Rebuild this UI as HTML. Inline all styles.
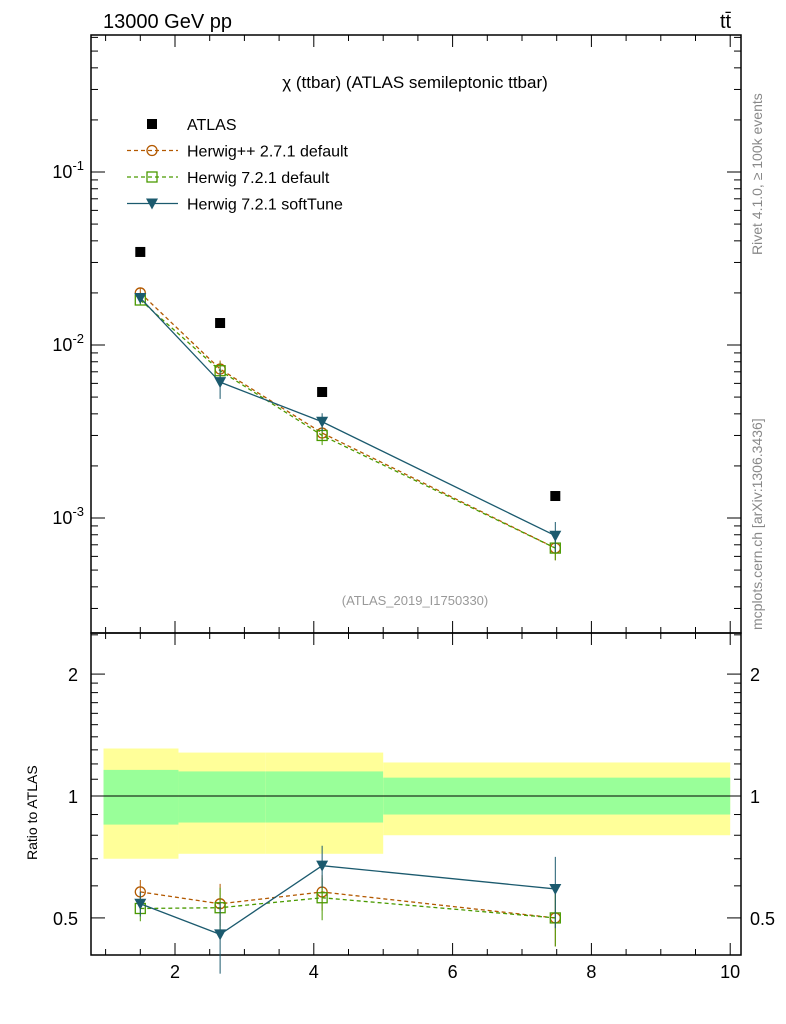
<!DOCTYPE html>
<html><head><meta charset="utf-8"><style>
html,body{margin:0;padding:0;background:#fff;}
svg{display:block;font-family:"Liberation Sans",sans-serif;}
</style></head><body>
<svg id="c" width="786" height="1024" viewBox="0 0 786 1024">
<text x="103" y="28" font-size="20">13000 GeV pp</text>
<text x="720" y="28" font-size="20">tt̄</text>
<text x="415" y="88" font-size="17" text-anchor="middle">χ (ttbar) (ATLAS semileptonic ttbar)</text>
<text x="415" y="605" font-size="13" fill="#999" text-anchor="middle">(ATLAS_2019_I1750330)</text>
<text transform="translate(762,255) rotate(-90)" font-size="14" fill="#888">Rivet 4.1.0, ≥ 100k events</text>
<text transform="translate(762,630) rotate(-90)" font-size="14" fill="#888">mcplots.cern.ch [arXiv:1306.3436]</text>
<text transform="translate(37,860) rotate(-90)" font-size="14">Ratio to ATLAS</text>
<g id="bands"></g><g id="axes"></g><g id="marks"></g><g id="legend"></g>
</svg>
<script>
const binEdges=[0.97,2.05,3.3,5,10];
const bandYellowHi=[1.31,1.28,1.28,1.21];
const bandYellowLo=[0.70,0.72,0.72,0.80];
const bandGreenHi=[1.16,1.15,1.15,1.11];
const bandGreenLo=[0.85,0.86,0.86,0.90];
const xPoints=[1.5,2.65,4.12,7.48];
const atlas=[0.0345,0.0134,0.00535,0.00134];
const hwpp=[0.0200,0.00726,0.0031,0.00067];
const hw721=[0.0182,0.0071,0.0030,0.00067];
const hwsoft=[0.0187,0.0061,0.0036,0.00079];
const errHwpp=[0.07,0.12,0.10,0.15];
const errHw721=[0.07,0.12,0.12,0.15];
const errHwsoft=[0.07,0.20,0.12,0.20];
const xTicks=[2,4,6,8,10];
const NS="http://www.w3.org/2000/svg";
const X=v=>105.6+(v-1)*69.4;
const Y=v=>172-(Math.log10(v)+1)*173;
const R=v=>796-Math.log10(v)*405;
const L=91,Rt=741,T=35,M=633,B=955;
function el(p,tag,a){const e=document.createElementNS(NS,tag);for(const k in a)e.setAttribute(k,a[k]);document.getElementById(p).appendChild(e);return e;}
for(let i=0;i<4;i++){
 let r=el('bands','rect',{x:X(binEdges[i]),y:R(bandYellowHi[i]),width:X(binEdges[i+1])-X(binEdges[i]),height:R(bandYellowLo[i])-R(bandYellowHi[i]),fill:'#ffff99'});
 
 
 let g=el('bands','rect',{x:X(binEdges[i]),y:R(bandGreenHi[i]),width:X(binEdges[i+1])-X(binEdges[i]),height:R(bandGreenLo[i])-R(bandGreenHi[i]),fill:'#99ff99'});
 
 
}
el('bands','line',{x1:L,x2:Rt,y1:R(1),y2:R(1),stroke:'#000','stroke-width':1});
let f1=el('axes','rect',{x:L,y:T,width:Rt-L,height:M-T,fill:'none',stroke:'#000','stroke-width':1.5});

let f2=el('axes','rect',{x:L,y:M,width:Rt-L,height:B-M,fill:'none',stroke:'#000','stroke-width':1.5});

for(let v=1;v<=10.1;v+=0.5){const maj=Math.abs(v-Math.round(v/2)*2)<1e-6;const len=maj?12:6;
 for(const [a,b] of [[T,M],[M,B]]){el('axes','line',{x1:X(v),x2:X(v),y1:b,y2:b-len,stroke:'#000'});el('axes','line',{x1:X(v),x2:X(v),y1:a,y2:a+len,stroke:'#000'});}}
xTicks.forEach(v=>{let t=el('axes','text',{x:X(v),y:978,'font-size':18,'text-anchor':'middle'});t.textContent=v;});
for(let d=-4;d<=0;d++)for(let m=1;m<10;m++){const v=m*Math.pow(10,d);const y=Y(v);if(y<T||y>M)continue;const len=m==1?14:7;
 el('axes','line',{x1:L,x2:L+len,y1:y,y2:y,stroke:'#000'});el('axes','line',{x1:Rt,x2:Rt-len,y1:y,y2:y,stroke:'#000'});}
[-1,-2,-3].forEach(d=>{let t=el('axes','text',{x:84,y:Y(Math.pow(10,d))+6,'font-size':18,'text-anchor':'end'});t.innerHTML='10<tspan dy="-8" font-size="13">'+d+'</tspan>';});
[0.5,0.6,0.7,0.8,0.9,1,1.1,1.2,1.3,1.4,1.5,1.6,1.7,1.8,1.9,2,2.5].forEach(v=>{const y=R(v);const maj=(v==0.5||v==1||v==2);const len=maj?14:7;
 el('axes','line',{x1:L,x2:L+len,y1:y,y2:y,stroke:'#000'});el('axes','line',{x1:Rt,x2:Rt-len,y1:y,y2:y,stroke:'#000'});});
[[0.5,'0.5'],[1,'1'],[2,'2']].forEach(([v,s])=>{let t=el('axes','text',{x:78,y:R(v)+7,'font-size':18,'text-anchor':'end'});t.textContent=s;
 let t2=el('axes','text',{x:750,y:R(v)+7,'font-size':18});t2.textContent=s;});
function marker(g,x,y,type,col){
 if(type=='circ')el(g,'circle',{cx:x,cy:y,r:5,fill:'none',stroke:col,'stroke-width':1.3});
 else if(type=='sq')el(g,'rect',{x:x-5,y:y-5,width:10,height:10,fill:'none',stroke:col,'stroke-width':1.3});
 else if(type=='tri')el(g,'path',{d:`M${x-6},${y-5}L${x+6},${y-5}L${x},${y+6}Z`,fill:col});
 else el(g,'rect',{x:x-5,y:y-5,width:10,height:10,fill:col});
}
const series=[[hwpp,errHwpp,'#b35900','circ','4,3','series-herwigpp'],[hw721,errHw721,'#4a9a00','sq','4,3','series-herwig721'],[hwsoft,errHwsoft,'#1b5a6e','tri','','series-softtune']];
series.forEach(([vals,errs,col,mk,dash,name])=>{
 const pm=xPoints.map((x,i)=>X(x)+','+Y(vals[i])).join(' ');
 let p=el('marks','polyline',{points:pm,fill:'none',stroke:col,'stroke-width':1.3,'stroke-dasharray':dash});
 
 const pr=xPoints.map((x,i)=>X(x)+','+R(vals[i]/atlas[i])).join(' ');
 let q=el('marks','polyline',{points:pr,fill:'none',stroke:col,'stroke-width':1.3,'stroke-dasharray':dash});
 
 xPoints.forEach((x,i)=>{const v=vals[i],e=errs[i],r=v/atlas[i];
  el('marks','line',{x1:X(x),x2:X(x),y1:Y(v*(1+e)),y2:Y(v*(1-e)),stroke:col});
  el('marks','line',{x1:X(x),x2:X(x),y1:R(r*(1+e)),y2:R(r*(1-e)),stroke:col});
  marker('marks',X(x),Y(v),mk,col);marker('marks',X(x),R(r),mk,col);});
});
xPoints.forEach((x,i)=>{marker('marks',X(x),Y(atlas[i]),'fsq','#000');});
const leg=[['ATLAS','fsq','#000',null],['Herwig++ 2.7.1 default','circ','#b35900','4,3'],['Herwig 7.2.1 default','sq','#4a9a00','4,3'],['Herwig 7.2.1 softTune','tri','#1b5a6e','']];
leg.forEach(([lab,mk,col,dash],i)=>{const y=124+i*26.5;
 if(dash!==null)el('legend','line',{x1:127,x2:178,y1:y,y2:y,stroke:col,'stroke-width':1.3,'stroke-dasharray':dash});
 marker('legend',152,y,mk,col);
 let t=el('legend','text',{x:187,y:y+6,'font-size':16});t.textContent=lab;
 });
</script>
</body></html>
